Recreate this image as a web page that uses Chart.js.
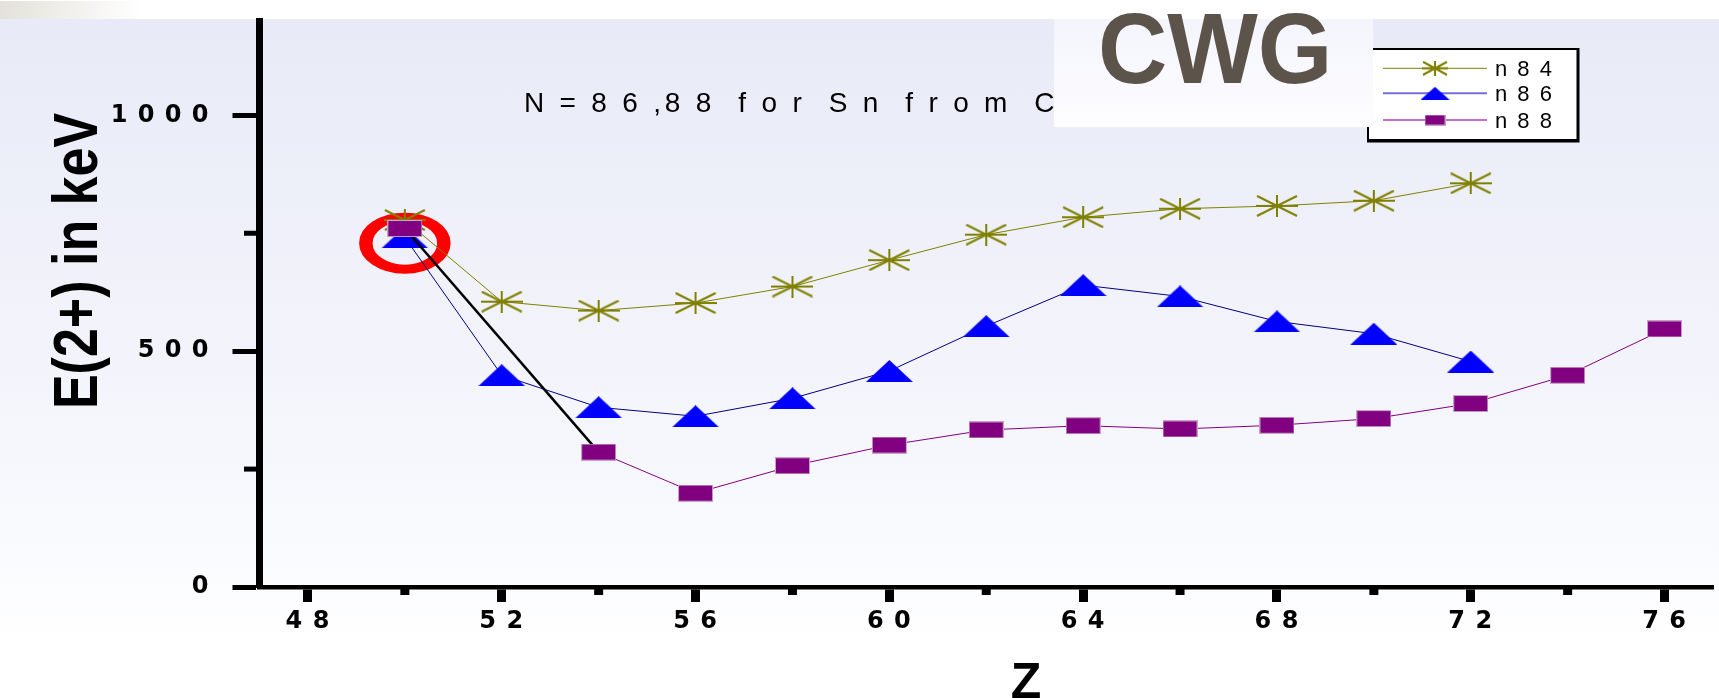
<!DOCTYPE html>
<html>
<head>
<meta charset="utf-8">
<script src="https://cdn.jsdelivr.net/npm/chart.js@4.4.1/dist/chart.umd.min.js"></script>
<style>
  html, body { margin: 0; padding: 0; }
  body {
    width: 1719px; height: 698px; overflow: hidden; position: relative;
    background: linear-gradient(to bottom, #fff 0px, #fff 19px, #e8eaf7 19px, #f1f2fa 300px, #fafbfe 560px, #fff 650px);
  }
  #esquina { position: absolute; left: 0; top: 1px; width: 140px; height: 18px; background: linear-gradient(to right, #e3e1da, #fff); }
  canvas { position: absolute; left: 0; top: 0; }
</style>
</head>
<body>
<div id="esquina"></div>
<canvas id="grafico" width="1719" height="698"></canvas>
<script>
// valores (Z, E(2+) en keV)
const zValues = [50, 52, 54, 56, 58, 60, 62, 64, 66, 68, 70, 72, 74, 76];
const n84 = [778, 605, 586, 602, 637, 693, 747, 784, 802, 808, 819, 856, null, null];
const n86 = [741, 449, 381, 362, 400, 458, 553, 640, 616, 563, 537, 478, null, null];
const n88 = [760, null, 286, 199, 257, 301, 333, 342, 335, 343, 357, 389, 449, 547];
const seriesNames = ["n 8 4", "n 8 6", "n 8 8"];
const xTicksMajor = [48, 52, 56, 60, 64, 68, 72, 76];
const xTicksMinor = [50, 54, 58, 62, 66, 70, 74];
const yTicksMajor = [0, 500, 1000];
const yTicksMinor = [250, 750];
const marcado = { z: 50, e: 729 };

const OLIVA = "#808000", AZUL = "#0000ff", MORADO = "#800080";

function marcador(tipo, w, h) {
  const c = document.createElement("canvas");
  c.width = w; c.height = h;
  const g = c.getContext("2d");
  if (tipo === "star") {
    g.strokeStyle = OLIVA; g.lineWidth = 2;
    g.beginPath();
    g.moveTo(0, h / 2); g.lineTo(w, h / 2);
    g.moveTo(w / 2, 0); g.lineTo(w / 2, h);
    g.moveTo(1, 1); g.lineTo(w - 1, h - 1);
    g.moveTo(w - 1, 1); g.lineTo(1, h - 1);
    g.stroke();
  } else if (tipo === "triangle") {
    g.fillStyle = AZUL;
    g.beginPath(); g.moveTo(w / 2, 0); g.lineTo(w, h); g.lineTo(0, h); g.closePath(); g.fill();
  } else {
    g.fillStyle = "#c8a0c8"; g.fillRect(0, 0, w, h);
    g.fillStyle = MORADO; g.fillRect(1, 1, w - 2, h - 2);
  }
  return c;
}

const estrella = marcador("star", 42, 22);
const triangulo = marcador("triangle", 47, 22);
const cuadrado = marcador("rect", 35, 17);
const leyendaMarcas = [marcador("star", 26, 15), marcador("triangle", 29, 13), marcador("rect", 21, 11)];
const leyendaLineas = [[OLIVA, 1], ["#7070d8", 2], ["#b040b0", 1.5]];

const puntos = serie => zValues.map((z, i) => ({ x: z, y: serie[i] })).filter(p => p.y !== null);
const espaciado = v => String(v).split("").join(" ");
const fuenteTicks = { family: "'DejaVu Sans'", size: 24, weight: "bold" };

const decoracion = {
  id: "decoracion",
  beforeDraw(chart) {
    chart.ctx.letterSpacing = "1px";
  },
  beforeDatasetsDraw(chart) {
    const { ctx, scales } = chart;
    const px = scales.x.getPixelForValue(marcado.z);
    const py = scales.y.getPixelForValue(marcado.e);
    ctx.save();
    ctx.translate(px, py);
    ctx.scale(1.5, 1);
    ctx.strokeStyle = "#ff0000";
    ctx.lineWidth = 9;
    ctx.beginPath();
    ctx.arc(0, 0, 26, 0, Math.PI * 2);
    ctx.stroke();
    ctx.restore();
  },
  afterDraw(chart) {
    const { ctx, scales, chartArea } = chart;
    ctx.save();
    ctx.letterSpacing = "0px";
    ctx.fillStyle = "#000";
    ctx.strokeStyle = "#000";

    // ticks menores
    ctx.lineWidth = 5;
    yTicksMinor.forEach(v => {
      const y = scales.y.getPixelForValue(v);
      ctx.beginPath(); ctx.moveTo(chartArea.left - 15.5, y); ctx.lineTo(chartArea.left - 3, y); ctx.stroke();
    });
    ctx.lineWidth = 9;
    xTicksMinor.forEach(v => {
      const x = scales.x.getPixelForValue(v);
      ctx.beginPath(); ctx.moveTo(x, chartArea.bottom + 2); ctx.lineTo(x, chartArea.bottom + 8); ctx.stroke();
    });

    // titulos de ejes
    ctx.save();
    ctx.translate(97, 261);
    ctx.scale(1.22, 1);
    ctx.rotate(-Math.PI / 2);
    ctx.font = "bold 52px 'Liberation Sans'";
    ctx.textAlign = "center";
    ctx.textBaseline = "alphabetic";
    ctx.fillText("E(2+) in keV", 0, 0);
    ctx.restore();

    ctx.font = "bold 50px 'Liberation Sans'";
    ctx.textAlign = "center";
    ctx.fillText("Z", 1026, 698);

    // titulo
    ctx.font = "28px 'Liberation Sans'";
    ctx.textAlign = "left";
    ctx.letterSpacing = "3.8px";
    ctx.fillText("N = 8 6 ,8 8  f o r  S n  f r o m  C", 524, 112);
    ctx.letterSpacing = "0px";

    // leyenda
    ctx.fillStyle = "#fff";
    ctx.fillRect(1368, 49, 210, 91);
    ctx.lineWidth = 2;
    ctx.strokeRect(1368, 49, 210, 91);
    ctx.lineWidth = 3;
    ctx.beginPath(); ctx.moveTo(1578, 48); ctx.lineTo(1578, 141); ctx.lineTo(1367, 141); ctx.stroke();
    const filas = [68.3, 93.3, 120];
    ctx.font = "22px 'Liberation Sans'";
    ctx.letterSpacing = "2px";
    chart.data.datasets.forEach((ds, i) => {
      const y = filas[i];
      ctx.strokeStyle = leyendaLineas[i][0];
      ctx.lineWidth = leyendaLineas[i][1];
      ctx.beginPath(); ctx.moveTo(1383, y); ctx.lineTo(1487, y); ctx.stroke();
      const m = leyendaMarcas[i];
      ctx.drawImage(m, 1435 - m.width / 2, y - m.height / 2);
      ctx.fillStyle = "#000";
      ctx.fillText(ds.label, 1495, y + 7.5);
    });
    ctx.letterSpacing = "0px";

    // recuadro CWG
    const grad = ctx.createLinearGradient(0, 19, 0, 127);
    grad.addColorStop(0, "#f4f5fc");
    grad.addColorStop(1, "#fdfdff");
    ctx.fillStyle = grad;
    ctx.fillRect(1054, 19, 319, 108);
    ctx.save();
    ctx.translate(1098, 83);
    ctx.scale(0.95, 1);
    ctx.fillStyle = "#5c544b";
    ctx.font = "bold 101px 'Liberation Sans'";
    ctx.textAlign = "left";
    ctx.fillText("CWG", 0, 0);
    ctx.restore();

    ctx.restore();
  }
};

const ctx = document.getElementById("grafico").getContext("2d");
const grafico = new Chart(ctx, {
  type: "line",
  data: {
    datasets: [
      { label: seriesNames[0], data: puntos(n84), borderColor: OLIVA, borderWidth: 1,
        pointStyle: estrella, pointRadius: 5, order: 3 },
      { label: seriesNames[1], data: puntos(n86), borderColor: "#000080", borderWidth: 1,
        pointStyle: triangulo, pointRadius: 5, order: 2 },
      { label: seriesNames[2], data: puntos(n88), borderColor: MORADO, borderWidth: 1,
        pointStyle: cuadrado, pointRadius: 5, order: 1,
        segment: {
          borderColor: c => c.p0DataIndex === 0 ? "#000" : MORADO,
          borderWidth: c => c.p0DataIndex === 0 ? 2.5 : 1
        } }
    ]
  },
  options: {
    responsive: false,
    animation: false,
    devicePixelRatio: 1,
    layout: { padding: { top: 21, right: 0, left: 0, bottom: 0 } },
    plugins: { legend: { display: false }, tooltip: { enabled: false } },
    elements: { line: { tension: 0 } },
    scales: {
      x: {
        type: "linear", min: 47, max: 77,
        afterFit: s => { s.height = 111; s.paddingLeft = 0; s.paddingRight = 0; },
        afterBuildTicks: s => { s.ticks = xTicksMajor.map(v => ({ value: v })); },
        ticks: { autoSkip: false, maxRotation: 0, padding: 5, color: "#000", font: fuenteTicks,
          callback: v => espaciado(v) },
        grid: { drawOnChartArea: false, tickLength: 15, tickWidth: 9, tickColor: "#000" },
        border: { color: "#000", width: 4.5 }
      },
      y: {
        min: 0, max: 1200,
        afterFit: s => { s.width = 259.5; s.paddingTop = 0; s.paddingBottom = 0; },
        afterBuildTicks: s => { s.ticks = yTicksMajor.map(v => ({ value: v })); },
        ticks: { autoSkip: false, padding: 23, color: "#000", font: fuenteTicks,
          callback: v => espaciado(v) },
        grid: { drawOnChartArea: false, tickLength: 27, tickWidth: 5, tickColor: "#000" },
        border: { color: "#000", width: 7 }
      }
    }
  },
  plugins: [decoracion]
});
</script>
</body>
</html>
